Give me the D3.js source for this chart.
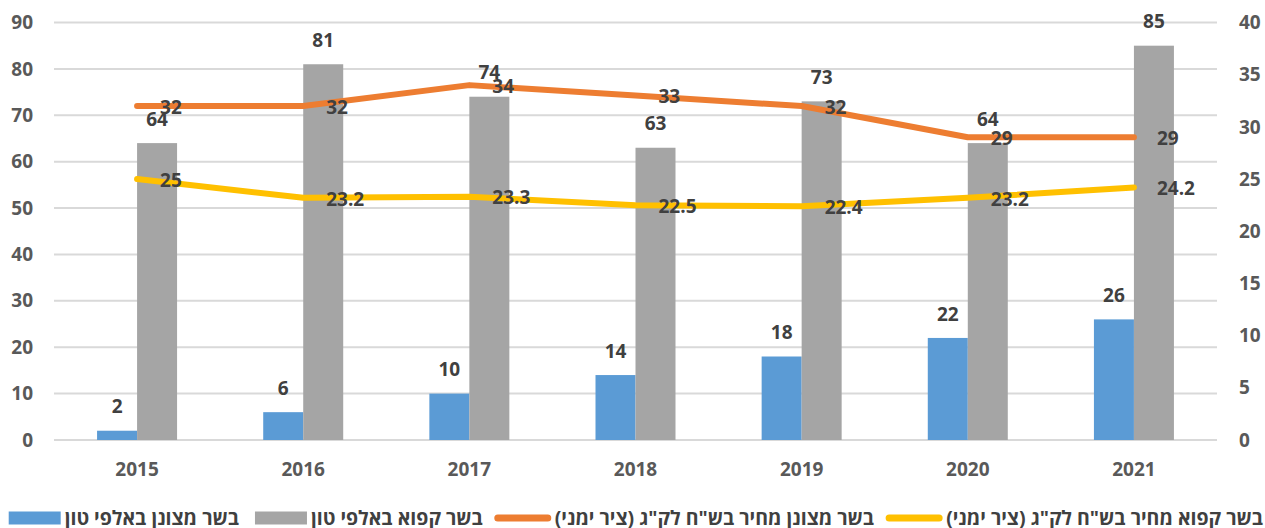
<!DOCTYPE html>
<html>
<head>
    <meta charset="utf-8">
    <style>
        body { margin: 0; background: #fff; }
        svg { display: block; }
        text { font-family: "Open Sans", "Liberation Sans", sans-serif; font-weight: 700; }
        .tick-label { fill: #595959; font-size: 19px; }
        .data-label { fill: #404040; font-size: 19px; }
        .legend-label { fill: #404040; font-size: 19.5px; }
    </style>
</head>
<body>
    <div id="container"></div>
    <script src="https://d3js.org/d3.v7.min.js"></script>
    <script>
        // data
        const years = ["2015", "2016", "2017", "2018", "2019", "2020", "2021"];
        const freshTons = [2, 6, 10, 14, 18, 22, 26];          // אלפי טון
        const frozenTons = [64, 81, 74, 63, 73, 64, 85];
        const freshPrice = [32, 32, 34, 33, 32, 29, 29];       // ש"ח לק"ג, right axis
        const frozenPrice = [25, 23.2, 23.3, 22.5, 22.4, 23.2, 24.2];
        const leftTicks = [0, 10, 20, 30, 40, 50, 60, 70, 80, 90];
        const rightTicks = [0, 5, 10, 15, 20, 25, 30, 35, 40];

        const legendItems = [
            { name: "בשר קפוא מחיר בש\"ח לק\"ג (ציר ימני)", color: "#FFC000", type: "line" },
            { name: "בשר מצונן מחיר בש\"ח לק\"ג (ציר ימני)", color: "#ED7D31", type: "line" },
            { name: "בשר קפוא באלפי טון", color: "#A5A5A5", type: "bar" },
            { name: "בשר מצונן באלפי טון", color: "#5B9BD5", type: "bar" }
        ];

        function chart() {
            var width = 1265, height = 528;
            var left = 54, right = 1217, top = 22.5, bottom = 440;

            const svg = d3.select("#container").append("svg")
                .attr("width", width)
                .attr("height", height);

            const x = d3.scaleBand().domain(years).range([left, right]);
            const yL = d3.scaleLinear().domain([0, 90]).range([bottom, top]);
            const yR = d3.scaleLinear().domain([0, 40]).range([bottom, top]);
            const barW = 40;
            const cx = d => x(d) + x.bandwidth() / 2;

            // gridlines
            svg.append("g")
                .selectAll("line")
                .data(leftTicks)
                .join("line")
                .attr("x1", left).attr("x2", right)
                .attr("y1", d => yL(d)).attr("y2", d => yL(d))
                .attr("stroke", "#d9d9d9")
                .attr("stroke-width", 2);

            // left axis labels
            svg.append("g")
                .selectAll("text")
                .data(leftTicks)
                .join("text")
                .attr("class", "tick-label")
                .attr("x", 33)
                .attr("y", d => yL(d))
                .attr("dy", "0.35em")
                .attr("text-anchor", "end")
                .text(d => d);

            // right axis labels
            svg.append("g")
                .selectAll("text")
                .data(rightTicks)
                .join("text")
                .attr("class", "tick-label")
                .attr("x", 1239)
                .attr("y", d => yR(d))
                .attr("dy", "0.35em")
                .attr("text-anchor", "start")
                .text(d => d);

            // year labels
            svg.append("g")
                .selectAll("text")
                .data(years)
                .join("text")
                .attr("class", "tick-label")
                .attr("x", cx)
                .attr("y", 469)
                .attr("dy", "0.35em")
                .attr("text-anchor", "middle")
                .text(d => d);

            // bars
            svg.append("g")
                .selectAll("rect")
                .data(freshTons)
                .join("rect")
                .attr("x", (d, i) => cx(years[i]) - barW)
                .attr("y", d => yL(d))
                .attr("width", barW)
                .attr("height", d => bottom - yL(d))
                .attr("fill", "#5B9BD5");

            svg.append("g")
                .selectAll("rect")
                .data(frozenTons)
                .join("rect")
                .attr("x", (d, i) => cx(years[i]))
                .attr("y", d => yL(d))
                .attr("width", barW)
                .attr("height", d => bottom - yL(d))
                .attr("fill", "#A5A5A5");

            // lines
            const line = d3.line()
                .x((d, i) => cx(years[i]))
                .y(d => yR(d));

            [[freshPrice, "#ED7D31"], [frozenPrice, "#FFC000"]].forEach(function (s) {
                svg.append("path")
                    .datum(s[0])
                    .attr("d", line)
                    .attr("fill", "none")
                    .attr("stroke", s[1])
                    .attr("stroke-width", 6)
                    .attr("stroke-linecap", "round")
                    .attr("stroke-linejoin", "round");
            });

            // bar labels
            [[freshTons, -barW / 2], [frozenTons, barW / 2]].forEach(function (s) {
                svg.append("g")
                    .selectAll("text")
                    .data(s[0])
                    .join("text")
                    .attr("class", "data-label")
                    .attr("x", (d, i) => cx(years[i]) + s[1])
                    .attr("y", d => yL(d) - 24)
                    .attr("dy", "0.35em")
                    .attr("text-anchor", "middle")
                    .text(d => d);
            });

            // line labels
            [freshPrice, frozenPrice].forEach(function (s) {
                svg.append("g")
                    .selectAll("text")
                    .data(s)
                    .join("text")
                    .attr("class", "data-label")
                    .attr("x", (d, i) => cx(years[i]) + 23)
                    .attr("y", d => yR(d) + 1)
                    .attr("dy", "0.35em")
                    .attr("text-anchor", "start")
                    .text(d => d);
            });

            // legend, laid out from the right edge
            const legend = svg.append("g");
            var lx = 1263, ly = 518;
            legendItems.forEach(function (item) {
                const t = legend.append("text")
                    .attr("class", "legend-label")
                    .attr("x", lx)
                    .attr("y", ly)
                    .attr("dy", "0.35em")
                    .attr("direction", "rtl")
                    .attr("text-anchor", "start")
                    .text(item.name);
                const w = t.node().getComputedTextLength();
                const sr = lx - w - 4;
                if (item.type === "bar") {
                    legend.append("rect")
                        .attr("x", sr - 52).attr("y", ly - 6.5)
                        .attr("width", 52).attr("height", 13)
                        .attr("fill", item.color);
                } else {
                    legend.append("line")
                        .attr("x1", sr - 53).attr("x2", sr - 3)
                        .attr("y1", ly).attr("y2", ly)
                        .attr("stroke", item.color)
                        .attr("stroke-width", 7)
                        .attr("stroke-linecap", "round");
                }
                lx = sr - 52 - 16;
            });
        }

        chart();
    </script>
</body>
</html>
